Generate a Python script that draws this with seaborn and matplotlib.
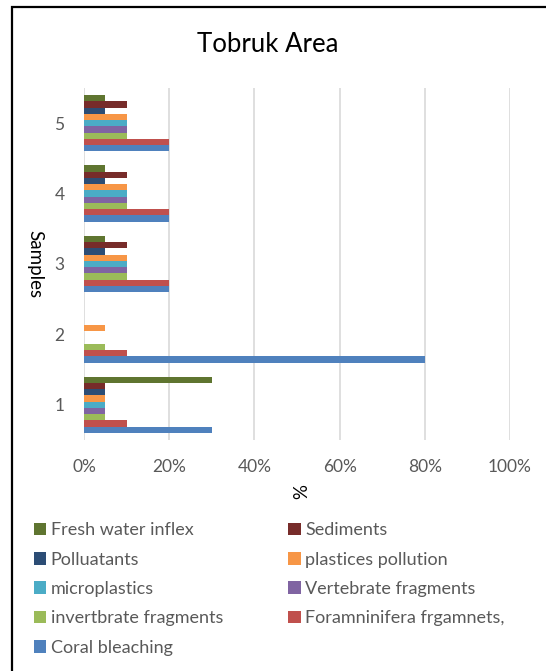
import pandas as pd
import numpy as np
import seaborn as sns
import matplotlib.pyplot as plt
from matplotlib.patches import Rectangle

# data (percent)
samples = ['1', '2', '3', '4', '5']
series = ['Fresh water inflex', 'Sediments', 'Polluatants', 'plastices pollution',
          'microplastics', 'Vertebrate fragments', 'invertbrate fragments',
          'Foramninifera frgamnets,', 'Coral bleaching']
fresh_water = [30, 0, 5, 5, 5]
sediments = [5, 0, 10, 10, 10]
polluatants = [5, 0, 5, 5, 5]
plastics = [5, 5, 10, 10, 10]
microplastics = [5, 0, 10, 10, 10]
vertebrate = [5, 0, 10, 10, 10]
invertebrate = [5, 5, 10, 10, 10]
foram = [10, 10, 20, 20, 20]
coral = [30, 80, 20, 20, 20]
colors = ['#5F7530', '#772C2A', '#2C4D75', '#F79646', '#4BACC6',
          '#8064A2', '#9BBB59', '#C0504D', '#4F81BD']

vals = [fresh_water, sediments, polluatants, plastics, microplastics,
        vertebrate, invertebrate, foram, coral]
rows = []
for name, v in zip(series, vals):
    for s, x in zip(samples, v):
        rows.append({'Sample': s, 'Series': name, 'value': x})
df = pd.DataFrame(rows)

sns.set_style('white')
plt.rcParams['font.family'] = ['Lato', 'DejaVu Sans']
grey = '#595959'

fig = plt.figure(figsize=(5.46, 6.71), dpi=100)
ax = fig.add_axes([0.1538, 0.3443, 0.7802, 0.5246])
sns.barplot(data=df, x='value', y='Sample', hue='Series', order=samples[::-1],
            hue_order=series, palette=colors, orient='h', width=0.8,
            ax=ax, legend=True, saturation=1, linewidth=0)

ax.set_xlim(0, 100)
ax.set_xticks(np.arange(0, 101, 20))
ax.set_xticklabels([f'{t}%' for t in range(0, 101, 20)])
ax.grid(axis='x', color='#D9D9D9', lw=1.2)
ax.set_axisbelow(True)
for sp in ax.spines.values():
    sp.set_visible(False)
ax.tick_params(axis='both', length=0, labelsize=12.5, colors=grey)
ax.tick_params(axis='x', pad=14)
ax.tick_params(axis='y', pad=14)
ax.set_ylabel('Samples', fontsize=13.5, color='black', rotation=-90, labelpad=20)
ax.set_xlabel('%', fontsize=13.5, color='black', rotation=-90, labelpad=6)

fig.text(0.491, 0.933, 'Tobruk Area', ha='center', va='center', fontsize=18.5, color='black')

handles, labels = ax.get_legend_handles_labels()
ax.get_legend().remove()
idx = [0, 2, 4, 6, 8, 1, 3, 5, 7]
fig.legend([handles[i] for i in idx], [labels[i] for i in idx], ncol=2,
           loc='upper left', bbox_to_anchor=(0.032, 1 - 506 / 671), frameon=False,
           fontsize=13, labelcolor=grey, handlelength=0.7, handleheight=0.7,
           handletextpad=0.25, labelspacing=0.74, columnspacing=3.6)

fig.patches.append(Rectangle((12 / 546, -0.1), 1.2, 1 - 7 / 671 + 0.1, transform=fig.transFigure,
                             fill=False, edgecolor='black', lw=1.6))

fig.savefig('out.png', dpi=100)
